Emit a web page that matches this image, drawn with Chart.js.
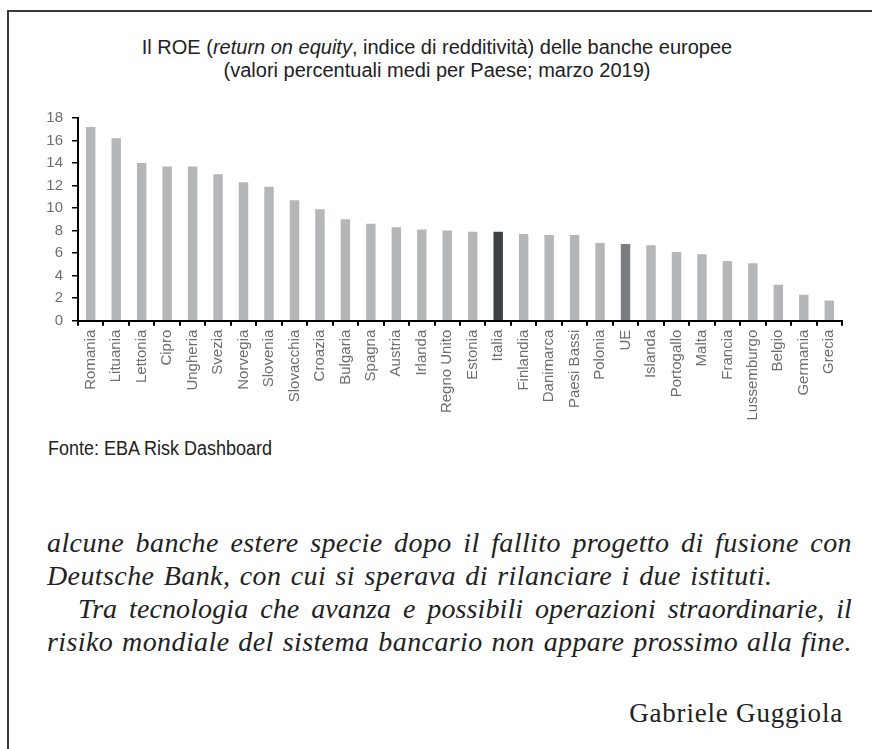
<!DOCTYPE html>
<html lang="it">
<head>
<meta charset="utf-8">
<title>ROE banche europee</title>
<script src="https://cdn.jsdelivr.net/npm/chart.js@4/dist/chart.umd.min.js"></script>
<style>
  html, body { margin: 0; padding: 0; background: #fff; }
  body { width: 872px; height: 749px; position: relative; overflow: hidden; }
  .frame { position: absolute; left: 7px; top: 10px; width: 880px; height: 760px;
           border-left: 2px solid #3a3a3a; border-top: 2px solid #3a3a3a; }
  .title { position: absolute; left: 0; width: 874px; text-align: center;
           font-family: "Liberation Sans", Arial, sans-serif; font-size: 20px; color: #222;
           line-height: 23px; white-space: nowrap; }
  #chartBox { position: absolute; left: 0; top: 100px; }
  .fonte { position: absolute; left: 48px; top: 437px; font-family: "Liberation Sans", Arial, sans-serif;
           font-size: 20px; color: #222; transform: scaleX(0.9); transform-origin: left; white-space: nowrap; }
  .testo { position: absolute; left: 47px; top: 526px; width: 805px;
           font-family: "Liberation Serif", "DejaVu Serif", serif; font-style: italic;
           font-size: 28px; letter-spacing: 0.4px; line-height: 33px; color: #222; }
  .testo div { text-align: justify; text-align-last: justify; white-space: nowrap; }
  .testo div.short { text-align-last: left; word-spacing: 2px; }
  .testo div.indent { padding-left: 31px; letter-spacing: 0.1px; }
  .firma { position: absolute; right: 29px; top: 701px; font-family: "Liberation Serif", serif;
           font-size: 27px; letter-spacing: 0.8px; line-height: 25px; color: #222; }
</style>
</head>
<body>
<div class="frame"></div>
<div class="title" style="top:36px">Il ROE (<i>return on equity</i>, indice di redditività) delle banche europee</div>
<div class="title" style="top:59px">(valori percentuali medi per Paese; marzo 2019)</div>

<div id="chartBox"><canvas id="roeChart" width="872" height="330"></canvas></div>

<div class="fonte">Fonte: EBA Risk Dashboard</div>

<div class="testo">
  <div>alcune banche estere specie dopo il fallito progetto di fusione con</div>
  <div class="short">Deutsche Bank, con cui si sperava di rilanciare i due istituti.</div>
  <div class="indent">Tra tecnologia che avanza e possibili operazioni straordinarie, il</div>
  <div>risiko mondiale del sistema bancario non appare prossimo alla fine.</div>
</div>
<div class="firma">Gabriele Guggiola</div>

<script>
var categories = ['Romania', 'Lituania', 'Lettonia', 'Cipro', 'Ungheria', 'Svezia', 'Norvegia',
  'Slovenia', 'Slovacchia', 'Croazia', 'Bulgaria', 'Spagna', 'Austria', 'Irlanda', 'Regno Unito',
  'Estonia', 'Italia', 'Finlandia', 'Danimarca', 'Paesi Bassi', 'Polonia', 'UE', 'Islanda',
  'Portogallo', 'Malta', 'Francia', 'Lussemburgo', 'Belgio', 'Germania', 'Grecia'];

var roeValues = [17.2, 16.2, 14.0, 13.7, 13.7, 13.0, 12.3,
  11.9, 10.7, 9.9, 9.0, 8.6, 8.3, 8.1, 8.0,
  7.9, 7.9, 7.7, 7.6, 7.6, 6.9, 6.8, 6.7,
  6.1, 5.9, 5.3, 5.1, 3.2, 2.3, 1.8];

var yTicks = [0, 2, 4, 6, 8, 10, 12, 14, 16, 18];

var barColors = categories.map(function (c) {
  if (c === 'Italia') return '#3d4043';
  if (c === 'UE') return '#7a7c7f';
  return '#b4b6b8';
});

var canvasTop = 100;
var axisLeft = 78;
var zeroY = 320.7;

var ctx = document.getElementById('roeChart');
new Chart(ctx, {
  type: 'bar',
  data: {
    labels: categories,
    datasets: [{
      data: roeValues,
      backgroundColor: barColors,
      borderWidth: 0,
      categoryPercentage: 1,
      barPercentage: 0.37
    }]
  },
  options: {
    responsive: false,
    animation: false,
    devicePixelRatio: 1,
    layout: { padding: { top: 17, right: 30, left: 0, bottom: 0 } },
    plugins: { legend: { display: false }, tooltip: { enabled: false } },
    scales: {
      x: {
        grid: { drawOnChartArea: false, drawTicks: true, tickLength: 5, color: '#000', lineWidth: 2, offset: true },
        border: { color: '#000', width: 2 },
        ticks: {
          autoSkip: false, minRotation: 90, maxRotation: 90, padding: 4,
          color: '#6e6e6e', font: { family: 'Liberation Sans', size: 15 }
        },
        afterFit: function (scale) { scale.height = 330 - (zeroY - canvasTop); }
      },
      y: {
        min: 0, max: 18,
        afterBuildTicks: function (scale) { scale.ticks = yTicks.map(function (v) { return { value: v }; }); },
        grid: { drawOnChartArea: false, drawTicks: true, tickLength: 6, color: '#000', lineWidth: 1.5 },
        border: { color: '#000', width: 2 },
        ticks: { padding: 9, color: '#6e6e6e', font: { family: 'Liberation Sans', size: 15 } },
        afterFit: function (scale) { scale.width = axisLeft; }
      }
    }
  }
});
</script>
</body>
</html>
